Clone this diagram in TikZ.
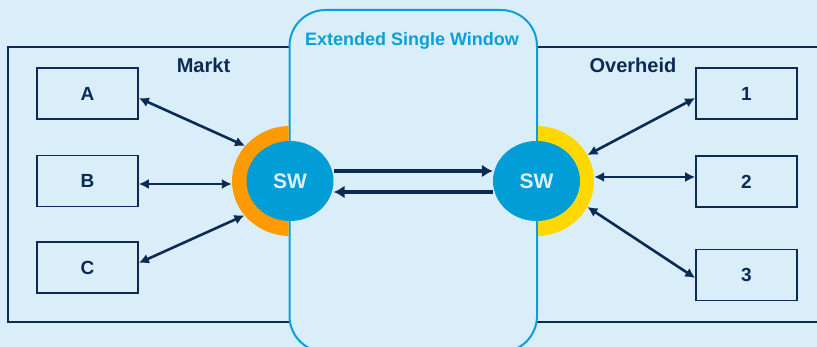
\documentclass[tikz,border=0pt]{standalone}
\usepackage{fontspec}
\setmainfont{Liberation Sans}
\usetikzlibrary{shapes.geometric,arrows.meta}
\definecolor{bg}{HTML}{DAEEF9}
\definecolor{navy}{HTML}{0B2A55}
\definecolor{wincyan}{HTML}{0A9FDB}
\definecolor{swblue}{HTML}{009DD6}
\definecolor{ringorange}{HTML}{FF9A00}
\definecolor{ringyellow}{HTML}{FFD800}
\definecolor{swtext}{HTML}{DDF0FA}
\begin{document}
\begin{tikzpicture}[x=1pt,y=-1pt,
  frame/.style={draw=navy,line width=1.5pt},
  window/.style={draw=wincyan,fill=bg,line width=2pt,rounded corners=36pt},
  box/.style={draw=navy,line width=1.6pt,minimum width=101pt,minimum height=51pt,inner sep=0pt,
    text=navy,font=\bfseries\fontsize{19}{19}\selectfont},
  grouplabel/.style={text=navy,font=\bfseries\fontsize{20}{20}\selectfont,inner sep=0pt},
  winlabel/.style={text=wincyan,font=\bfseries\fontsize{18}{18}\selectfont,inner sep=0pt},
  ring/.style={ellipse,inner sep=0pt,minimum width=116pt,minimum height=110pt},
  swnode/.style={ellipse,fill=swblue,inner sep=0pt,minimum width=87pt,minimum height=80pt,
    text=swtext,font=\bfseries\fontsize{21}{21}\selectfont},
  link/.style={draw=navy,line width=2.6pt,{Latex[length=10pt,width=10pt]}-{Latex[length=10pt,width=10pt]}},
  flow/.style={draw=navy,line width=3.8pt,-{Latex[length=11pt,width=13pt]}}]
\useasboundingbox (0,0) rectangle (817,347);
\fill[bg] (0,0) rectangle (817,347);
% group frames
\draw[frame] (8,47) rectangle (300,322);
\draw[frame] (527,47) rectangle (840,322);
% extended single window
\draw[window] (289.5,10) rectangle (537,352);
\node[winlabel] (ewin) at (412,41) {Extended Single Window};
\node[grouplabel] (markt) at (203.5,65) {Markt};
\node[grouplabel] (overheid) at (633,65) {Overheid};
% boxes
\node[box] (A) at (87.5,93.5) {A};
\node[box] (B) at (87.5,181) {B};
\node[box] (C) at (87.5,267.5) {C};
\node[box] (n1) at (746.5,93.5) {1};
\node[box] (n2) at (746.5,181.5) {2};
\node[box] (n3) at (746.5,275) {3};
% rings
\begin{scope}
  \clip (0,0) rectangle (288.5,347);
  \node[ring,fill=ringorange] (ringL) at (290,181) {};
\end{scope}
\begin{scope}
  \clip (538,0) rectangle (817,347);
  \node[ring,fill=ringyellow,minimum width=115pt] (ringR) at (536.5,181) {};
\end{scope}
% SW circles
\node[swnode] (sL) at (290,181) {SW};
\node[swnode] (sR) at (536.5,181) {SW};
% connectors
\draw[link] ([yshift=-4.5pt]A.east) -- (ringL.142.5);
\draw[link] ([yshift=-3pt]B.east) -- ([yshift=-3pt]ringL.west);
\draw[link] ([yshift=4.5pt]C.east) -- (ringL.217);
\draw[link] ([yshift=-4.5pt]n1.west) -- (ringR.27);
\draw[link] ([yshift=4.5pt]n2.west) -- ([yshift=4pt]ringR.east);
\draw[link] ([yshift=-3pt]n3.west) -- (ringR.-27);
\draw[flow] ([yshift=10pt]sL.east) -- ([yshift=10pt]sR.west);
\draw[flow] ([yshift=-11pt]sR.west) -- ([yshift=-11pt]sL.east);
\end{tikzpicture}
\end{document}
